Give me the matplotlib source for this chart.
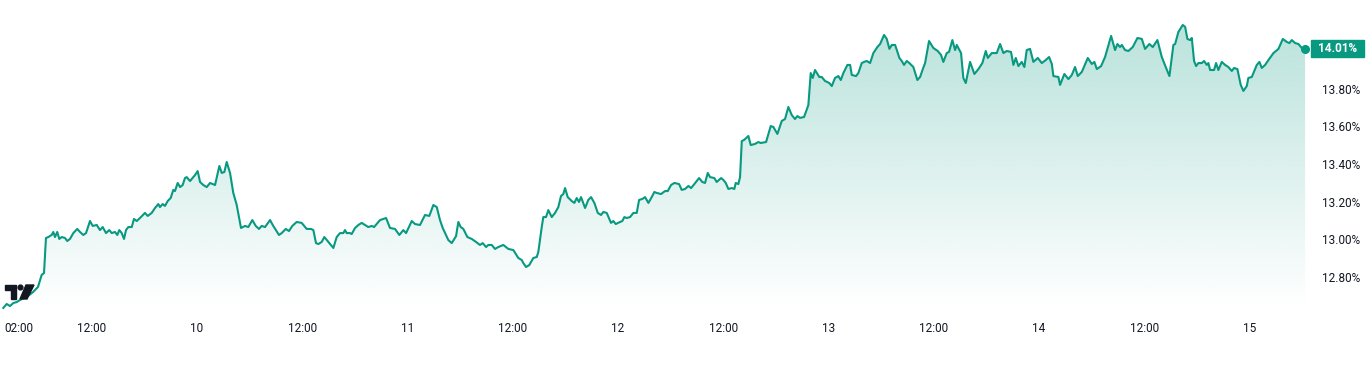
import numpy as np
import matplotlib
matplotlib.use("Agg")
import matplotlib.pyplot as plt
from matplotlib.patches import PathPatch, Rectangle, Polygon, Circle
from matplotlib.transforms import blended_transform_factory

plt.rcParams['font.family'] = ['Roboto', 'DejaVu Sans']

# -----------------------------------------------------------------------
# data — hours since day 9 00:00, yield in %
# -----------------------------------------------------------------------
hours = [
    1.92, 2.30, 2.68, 3.06, 3.44, 3.82, 4.58, 5.30, 5.87, 6.29, 6.56, 6.78, 7.05, 7.43, 7.62, 7.81,
    8.07, 8.30, 8.58, 8.95, 9.21, 9.52, 9.90, 10.35, 10.66, 11.04, 11.35, 11.80, 12.11, 12.57, 12.94,
    13.25, 13.63, 14.00, 14.28, 14.65, 14.92, 15.14, 15.42, 15.68, 15.91, 16.17, 16.56, 16.82, 17.13,
    17.50, 18.07, 18.38, 18.84, 19.21, 19.59, 19.78, 20.09, 20.35, 20.66, 21.00, 21.30, 21.49, 21.80,
    22.07, 22.37, 22.63, 22.83, 23.21, 23.40, 23.78, 24.08, 24.35, 24.72, 25.11, 25.49, 26.06, 26.55,
    26.82, 27.12, 27.39, 27.77, 28.14, 28.53, 29.02, 29.48, 29.85, 30.31, 30.70, 31.07, 31.38, 31.76,
    32.33, 32.70, 33.35, 33.66, 34.12, 34.49, 34.87, 35.37, 35.94, 36.51, 37.00, 37.27, 37.57, 37.84,
    38.22, 38.52, 38.98, 39.55, 39.93, 40.31, 40.69, 40.88, 41.07, 41.45, 41.64, 42.02, 42.40, 42.78,
    43.16, 43.54, 43.92, 44.19, 44.87, 45.56, 46.01, 46.58, 47.07, 47.53, 47.84, 48.49, 48.86, 49.43,
    50.00, 50.49, 50.95, 51.34, 51.71, 52.02, 52.66, 53.05, 53.54, 53.80, 54.07, 54.37, 54.83, 55.33,
    55.82, 56.27, 56.58, 56.96, 57.22, 57.61, 57.98, 58.36, 58.93, 59.50, 60.07, 60.64, 61.03, 61.21,
    61.52, 61.90, 62.35, 62.74, 62.92, 63.31, 63.49, 63.80, 64.06, 64.45, 64.83, 65.20, 65.51, 65.77,
    65.97, 66.27, 66.73, 67.03, 67.30, 67.56, 67.79, 68.25, 68.62, 68.93, 69.31, 69.70, 70.07, 70.33,
    70.72, 71.21, 71.47, 71.75, 72.24, 72.50, 72.73, 73.00, 73.38, 73.76, 74.14, 74.41, 74.78, 75.09,
    75.47, 75.85, 76.15, 76.42, 76.91, 77.37, 77.68, 78.05, 78.43, 78.97, 79.27, 79.65, 80.03, 80.34,
    80.71, 81.25, 81.62, 81.93, 82.24, 82.50, 82.99, 83.26, 83.76, 84.02, 84.29, 84.59, 84.98, 85.27,
    85.43, 85.73, 85.92, 86.12, 86.38, 86.87, 87.14, 87.63, 88.01, 88.28, 88.89, 89.42, 89.72, 90.18,
    90.68, 91.05, 91.43, 91.82, 92.19, 92.46, 92.76, 93.22, 93.71, 93.98, 94.21, 94.47, 94.96, 95.24,
    95.61, 96.10, 96.38, 96.75, 97.13, 97.41, 97.70, 98.16, 98.47, 98.66, 99.15, 99.41, 99.80, 100.06,
    100.37, 100.75, 101.12, 101.58, 101.89, 102.34, 102.65, 102.95, 103.22, 103.60, 103.79, 104.09,
    104.36, 104.62, 104.93, 105.23, 105.68, 106.14, 106.45, 106.76, 107.02, 107.47, 107.96, 108.46,
    108.84, 109.10, 109.49, 109.75, 110.13, 110.44, 110.63, 111.12, 111.38, 111.66, 112.15, 112.64,
    113.10, 113.55, 113.94, 114.17, 114.62, 115.19, 115.57, 115.95, 116.33, 116.82, 117.09, 117.36,
    117.66, 118.04, 118.34, 118.61, 118.99, 119.37, 119.87, 120.33, 120.78, 121.16, 121.47, 121.65,
    122.22, 122.41, 122.90, 123.36, 123.75, 124.12, 124.43, 124.89, 125.57, 126.03, 126.32, 126.60,
    127.09, 127.54, 128.23, 128.68, 128.95, 129.25, 129.45, 129.82, 130.20, 130.70, 131.23, 131.73,
    132.10, 132.59, 132.98, 133.51, 134.01, 134.50, 134.88, 135.33, 135.53, 135.90, 136.40, 136.67,
    136.93, 137.24, 137.43, 137.69, 137.92, 138.18, 138.57, 138.83, 139.14, 139.32, 139.52, 139.97,
    140.20, 140.46, 140.85, 141.23, 141.60, 141.99, 142.25, 142.63, 143.01, 143.31, 143.70, 143.88,
    144.27, 144.84, 145.14, 145.41, 145.79, 146.17, 146.74, 147.31, 147.81, 148.26, 148.56, 148.83,
    149.21, 149.59, 149.97, 150.35,
]
pct = [
    12.636, 12.657, 12.646, 12.662, 12.667, 12.678, 12.694, 12.720, 12.747, 12.811, 12.821, 13.007,
    13.012, 13.023, 13.039, 13.012, 13.039, 13.002, 13.012, 13.007, 12.991, 13.002, 13.033, 13.055,
    13.039, 13.023, 13.033, 13.097, 13.071, 13.076, 13.049, 13.065, 13.033, 13.049, 13.033, 13.039,
    13.023, 13.049, 13.033, 13.002, 13.049, 13.065, 13.065, 13.108, 13.097, 13.113, 13.140, 13.124,
    13.140, 13.166, 13.187, 13.171, 13.187, 13.177, 13.203, 13.219, 13.262, 13.256, 13.299, 13.277,
    13.288, 13.325, 13.330, 13.309, 13.320, 13.341, 13.362, 13.304, 13.288, 13.277, 13.299, 13.288,
    13.389, 13.352, 13.357, 13.410, 13.352, 13.246, 13.182, 13.060, 13.071, 13.065, 13.102, 13.071,
    13.055, 13.071, 13.065, 13.102, 13.071, 13.023, 13.033, 13.055, 13.044, 13.071, 13.092, 13.087,
    13.055, 13.055, 13.049, 12.980, 12.975, 12.986, 13.012, 12.986, 12.954, 13.012, 13.033, 13.033,
    13.049, 13.033, 13.033, 13.028, 13.060, 13.076, 13.087, 13.076, 13.065, 13.071, 13.065, 13.102,
    13.113, 13.060, 13.055, 13.023, 13.049, 13.033, 13.097, 13.081, 13.076, 13.129, 13.124, 13.182,
    13.171, 13.102, 13.060, 12.996, 12.980, 13.017, 13.092, 13.065, 13.055, 13.012, 13.002, 12.986,
    12.970, 12.980, 12.959, 12.970, 12.970, 12.949, 12.959, 12.970, 12.949, 12.943, 12.901, 12.890,
    12.874, 12.853, 12.864, 12.901, 12.906, 12.933, 13.065, 13.118, 13.118, 13.155, 13.118, 13.140,
    13.171, 13.230, 13.240, 13.272, 13.224, 13.203, 13.193, 13.219, 13.198, 13.224, 13.166, 13.209,
    13.224, 13.193, 13.140, 13.129, 13.145, 13.140, 13.087, 13.097, 13.081, 13.092, 13.097, 13.118,
    13.113, 13.118, 13.140, 13.140, 13.209, 13.214, 13.224, 13.193, 13.224, 13.251, 13.246, 13.240,
    13.256, 13.256, 13.288, 13.299, 13.293, 13.262, 13.267, 13.283, 13.272, 13.293, 13.325, 13.304,
    13.299, 13.352, 13.330, 13.325, 13.304, 13.325, 13.315, 13.299, 13.267, 13.272, 13.267, 13.299,
    13.293, 13.330, 13.521, 13.527, 13.548, 13.500, 13.506, 13.516, 13.511, 13.516, 13.601, 13.596,
    13.559, 13.628, 13.638, 13.702, 13.659, 13.638, 13.654, 13.644, 13.649, 13.712, 13.882, 13.856,
    13.898, 13.861, 13.861, 13.840, 13.829, 13.813, 13.856, 13.866, 13.845, 13.882, 13.925, 13.925,
    13.872, 13.866, 13.882, 13.935, 13.941, 13.946, 13.935, 13.988, 14.020, 14.036, 14.084, 14.063,
    14.010, 14.031, 14.031, 14.005, 13.962, 13.946, 13.925, 13.946, 13.935, 13.914, 13.845, 13.861,
    13.903, 13.935, 14.052, 14.015, 13.999, 13.978, 13.941, 13.988, 13.994, 14.057, 14.004, 14.031,
    13.988, 13.856, 13.829, 13.941, 13.877, 13.903, 13.935, 13.999, 13.962, 13.988, 13.988, 14.036,
    13.988, 13.999, 13.994, 13.925, 13.962, 13.919, 13.941, 13.914, 14.004, 14.010, 13.941, 13.962,
    13.935, 13.951, 13.967, 13.930, 13.866, 13.861, 13.819, 13.877, 13.850, 13.872, 13.914, 13.866,
    13.888, 13.962, 13.930, 13.941, 13.903, 13.919, 13.967, 14.079, 14.004, 14.036, 14.020, 14.031,
    14.004, 13.999, 14.020, 14.068, 14.063, 14.010, 14.036, 14.020, 14.057, 13.967, 13.909, 13.866,
    14.031, 14.036, 14.100, 14.137, 14.127, 14.063, 14.057, 14.068, 13.946, 13.919, 13.935, 13.935,
    13.946, 13.925, 13.935, 13.898, 13.898, 13.935, 13.898, 13.941, 13.925, 13.914, 13.893, 13.909,
    13.903, 13.819, 13.787, 13.813, 13.856, 13.861, 13.925, 13.941, 13.909, 13.925, 13.951, 13.988,
    14.010, 14.063, 14.047, 14.041, 14.057, 14.041, 14.036, 14.015, 14.010,
]

ytick_vals = [12.80, 13.00, 13.20, 13.40, 13.60, 13.80]
xtick_hours = [2, 12, 24, 36, 48, 60, 72, 84, 96, 108, 120, 132, 144]
xtick_labels = ["02:00", "12:00", "10", "12:00", "11", "12:00", "12",
                "12:00", "13", "12:00", "14", "12:00", "15"]

LINE = "#089981"
TEXT = "#131722"

# -----------------------------------------------------------------------
W, H = 1368, 367
fig = plt.figure(figsize=(W / 100, H / 100), dpi=100)
ax = fig.add_axes([0, 57 / H, 1308 / W, 310 / H])

x = np.array(hours)
y = np.array(pct)
x_lo, x_hi = 1.54, 150.68
y_lo, y_hi = 12.625, 14.2695
ax.set_xlim(x_lo, x_hi)
ax.set_ylim(y_lo, y_hi)

# gradient area under the line
poly = ax.fill_between(x, y, y_lo, color="none", lw=0)
clip = PathPatch(poly.get_paths()[0], transform=ax.transData, fc="none", ec="none")
ax.add_patch(clip)
rgb = np.array([8, 153, 129]) / 255
grad = np.zeros((256, 1, 4))
grad[:, 0, :3] = rgb
grad[:, 0, 3] = np.linspace(0.28, 0.0, 256)
img = ax.imshow(grad, extent=[x_lo, x_hi, y_lo, y.max()], aspect="auto",
                origin="upper", zorder=1, interpolation="bilinear")
img.set_clip_path(clip)

ax.plot(x, y, color=LINE, lw=1.5, zorder=3, solid_joinstyle="round")
ax.plot(x[-1], y[-1], "o", color=LINE, ms=5.5, zorder=4, clip_on=False)

for s in ax.spines.values():
    s.set_visible(False)

ax.yaxis.tick_right()
ax.set_yticks(ytick_vals)
ax.set_yticklabels([f"{v:.2f}%" for v in ytick_vals])
ax.set_xticks(xtick_hours)
ax.set_xticklabels(xtick_labels)
ax.tick_params(axis="both", length=0, labelsize=8.5, labelcolor=TEXT)
ax.tick_params(axis="x", pad=9)
ax.tick_params(axis="y", pad=10)
ax.get_xticklabels()[0].set_horizontalalignment("left")

# last value tag
bt = blended_transform_factory(ax.transAxes, ax.transData)
ax.add_patch(Rectangle((1311 / 1308, y[-1] - 0.045), 53 / 1308, 0.09,
                       transform=bt, color=LINE, clip_on=False, zorder=5))
ax.text(1337.5 / 1308, y[-1], f"{y[-1]:.2f}%", transform=bt, color="white",
        fontsize=8.5, fontweight="bold", ha="center", va="center", zorder=6)

# small logo bottom-left
ov = fig.add_axes([0, 0, 1, 1], facecolor="none")
ov.set_xlim(0, W)
ov.set_ylim(H, 0)
ov.axis("off")
ov.add_patch(Polygon([(5, 285), (16, 285), (16, 299), (11, 299), (11, 289.5), (5, 289.5)],
                     closed=True, color="#131722"))
ov.add_patch(Circle((20.5, 287.5), 2.4, color="#131722"))
ov.add_patch(Polygon([(26, 285), (34, 285), (27, 299), (20, 299)], closed=True, color="#131722"))

fig.savefig("out.png", dpi=100, facecolor="white")
